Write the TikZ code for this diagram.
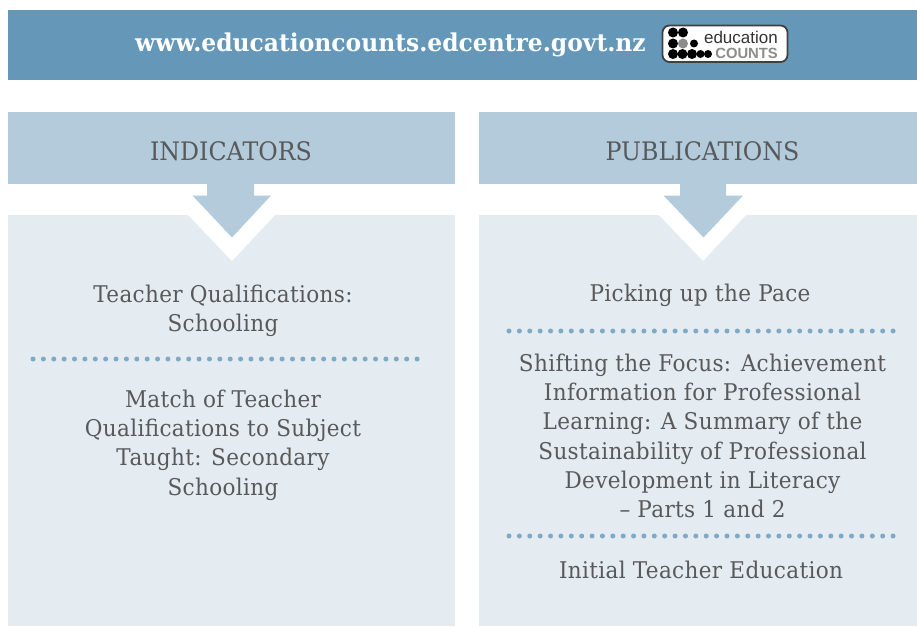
\documentclass[tikz,border=0pt]{standalone}
\usepackage{fontspec}
\setmainfont{DejaVu Serif}[FakeStretch=0.937,LetterSpace=1.5]
\newfontfamily\headf{DejaVu Serif}[FakeStretch=0.93]
\newfontfamily\boldf{DejaVu Serif Bold}[FakeStretch=0.955]
\newfontfamily\logof{Liberation Sans}
\definecolor{bar}{HTML}{6597B8}
\definecolor{head}{HTML}{B3CBDB}
\definecolor{pale}{HTML}{E4EBF1}
\definecolor{dotc}{HTML}{7FAAC6}
\definecolor{txt}{HTML}{58595B}
\tikzset{
  x=1pt,y=-1pt,
  bodytxt/.style={text=txt,font=\fontsize{23}{29.3}\selectfont,align=center,inner sep=0pt,anchor=north},
  headtxt/.style={text=txt,font=\headf\fontsize{25.5}{30}\selectfont,inner sep=0pt},
  sep/.style={draw=dotc,line width=5pt,line cap=round,dash pattern=on 0pt off 10.38pt},
  ball/.style={fill=black,circle,inner sep=0pt,minimum size=10pt},
  smallball/.style={fill=black,circle,inner sep=0pt,minimum size=8pt}
}
\begin{document}
\begin{tikzpicture}
\useasboundingbox (0,0) rectangle (917,626);
\fill[white] (0,0) rectangle (917,626);
\fill[bar] (8,10) rectangle (917,80);
\node[text=white,inner sep=0pt,font=\boldf\fontsize{24.5}{28}\selectfont] (url) at (390.5,45) {www.educationcounts.edcentre.govt.nz};
% logo
\draw[fill=white,draw=black!75,line width=1.8pt,rounded corners=7pt] (662.5,25.5) rectangle (787.5,62);
\foreach \x/\y in {673/32.5,683/32.5,673/43.5,673/54,682.5/54,692/54}{
  \node[ball] at (\x,\y) {};}
\foreach \x/\y in {694/43.5,700.5/54,708/54}{
  \node[smallball] at (\x,\y) {};}
\node[ball,fill=black!45] at (683,43.5) {};
\node[inner sep=0pt,font=\logof\fontsize{17}{18}\selectfont,text=black!80,anchor=east] (l1) at (778,37) {education};
\node[inner sep=0pt,font=\logof\bfseries\fontsize{14.8}{16}\selectfont,text=black!45,anchor=east] (l2) at (778,53) {COUNTS};
% panels
\fill[pale] (8,215) rectangle (455,626);
\fill[pale] (479,215) rectangle (917,626);
\fill[head] (8,112) rectangle (455,184);
\fill[head] (479,112) rectangle (917,184);
% arrows
\fill[white] (188,215) -- (275,215) -- (232,261) -- cycle;
\fill[white] (659,215) -- (746,215) -- (703,261) -- cycle;
\fill[head] (207,183) -- (254,183) -- (254,195.5) -- (271,195.5) -- (232,237.5) -- (192.5,195.5) -- (207,195.5) -- cycle;
\fill[head] (680,183) -- (726,183) -- (726,195.5) -- (743,195.5) -- (703.5,237.5) -- (663.5,195.5) -- (680,195.5) -- cycle;
\node[headtxt] (ind) at (231,151) {INDICATORS};
\node[headtxt] (pub) at (702.5,151) {PUBLICATIONS};
% left text
\node[bodytxt] (a) at (223,284.5) {Teacher Qualifications:\\Schooling};
\draw[sep] (33,359) -- (419.5,359);
\node[bodytxt] (b) at (223,389.5) {Match of Teacher\\Qualifications to Subject\\Taught: Secondary\\Schooling};
% right text
\node[bodytxt] (c) at (700,283.5) {Picking up the Pace};
\draw[sep] (509,331) -- (895.5,331);
\node[bodytxt] (d) at (702.5,353.5) {Shifting the Focus: Achievement\\Information for Professional\\Learning: A Summary of the\\Sustainability of Professional\\Development in Literacy\\– Parts 1 and 2};
\draw[sep] (509,536) -- (895.5,536);
\node[bodytxt] (e) at (701,560.5) {Initial Teacher Education};
\end{tikzpicture}
\end{document}
